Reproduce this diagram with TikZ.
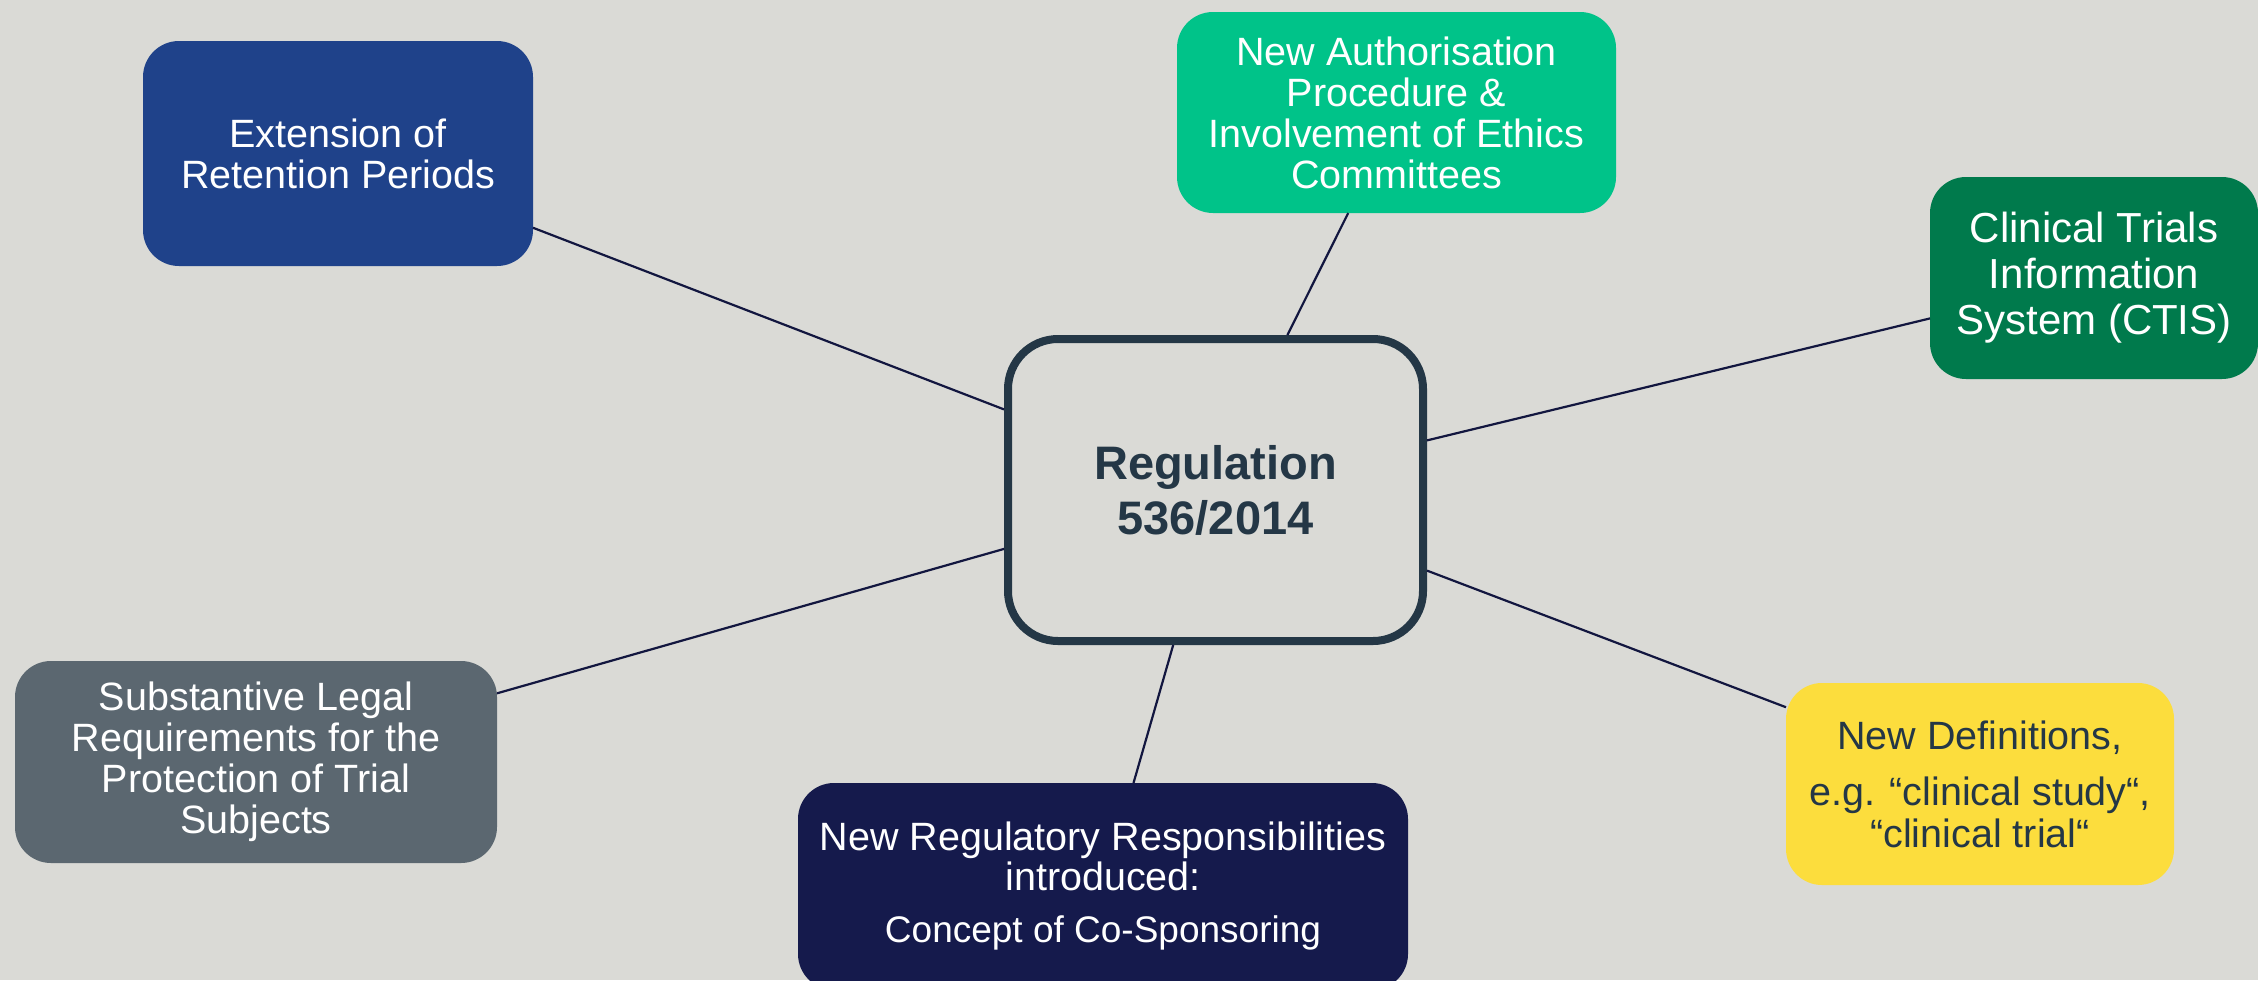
\documentclass[tikz,border=0pt]{standalone}
\usepackage{fontspec}
\setmainfont{Liberation Sans}
\usetikzlibrary{calc}

\definecolor{pagebg}{HTML}{DADAD6}
\definecolor{hubtext}{HTML}{243746}
\definecolor{linknavy}{HTML}{12163F}
\definecolor{boxblue}{HTML}{1F428A}
\definecolor{boxmint}{HTML}{00C389}
\definecolor{boxgreen}{HTML}{007A4C}
\definecolor{boxslate}{HTML}{5B6770}
\definecolor{boxnavy}{HTML}{151A4C}
\definecolor{boxyellow}{HTML}{FCDD3D}

\tikzset{
  topic/.style={rectangle, rounded corners=36pt, inner sep=0pt, outer sep=0pt,
    align=center, text=white, font=\fontsize{39.5}{41}\selectfont},
  hub/.style={rectangle, rounded corners=50pt, draw=hubtext, line width=8pt,
    fill=pagebg, inner sep=0pt, align=center, text=hubtext,
    font=\bfseries\fontsize{47}{55}\selectfont},
  link/.style={draw=linknavy, line width=2.2pt}
}

\begin{document}
\begin{tikzpicture}[x=1pt, y=-1pt]
  \fill[pagebg] (0,0) rectangle (2258,980);
  \useasboundingbox (0,0) rectangle (2258,980);

  % central hub
  \node[hub, minimum width=415pt, minimum height=302pt] (reg) at (1215.5,490)
    {Regulation\\536/2014};

  % surrounding topics
  \node[topic, fill=boxblue, minimum width=390pt, minimum height=225pt] (ext)
    at (338,153.5) {Extension of\\Retention Periods};
  \node[topic, fill=boxmint, minimum width=439pt, minimum height=201pt] (auth)
    at (1396.5,112.5)
    {New Authorisation\\Procedure \&\\Involvement of Ethics\\Committees};
  \node[topic, fill=boxgreen, minimum width=328pt, minimum height=202pt,
    font=\fontsize{42}{46}\selectfont] (ctis) at (2094,278)
    {Clinical Trials\\Information\\System (CTIS)};
  \node[topic, fill=boxslate, minimum width=482pt, minimum height=202pt] (subst)
    at (256,762)
    {Substantive Legal\\Requirements for the\\Protection of Trial\\Subjects};
  \node[topic, fill=boxnavy, minimum width=610pt, minimum height=207pt,
    font=\fontsize{39.5}{40}\selectfont] (resp) at (1103,886.5)
    {New Regulatory Responsibilities\\introduced:\\[12pt]
     {\fontsize{37}{40}\selectfont Concept of Co-Sponsoring}};
  \node[topic, fill=boxyellow, text=hubtext, minimum width=388pt,
    minimum height=202pt, font=\fontsize{39.5}{42}\selectfont] (defs)
    at (1980,784)
    {New Definitions,\\[14pt]e.g. “clinical study“,\\“clinical trial“};

  % connectors from each topic to the hub
  \draw[link] ($(ext.north east)!0.83!(ext.south east)$)
    -- ($(reg.north west)!0.24!(reg.south west)$);
  \draw[link] ($(auth.south west)!0.39!(auth.south east)$)
    -- ($(reg.north west)!0.67!(reg.north east)$);
  \draw[link] ($(ctis.north west)!0.70!(ctis.south west)$)
    -- ($(reg.north east)!0.34!(reg.south east)$);
  \draw[link] ($(subst.north east)!0.16!(subst.south east)$)
    -- ($(reg.north west)!0.69!(reg.south west)$);
  \draw[link] ($(resp.north west)!0.55!(resp.north east)$)
    -- ($(reg.south west)!0.40!(reg.south east)$);
  \draw[link] ($(defs.north west)!0.12!(defs.south west)$)
    -- ($(reg.north east)!0.76!(reg.south east)$);
\end{tikzpicture}
\end{document}
